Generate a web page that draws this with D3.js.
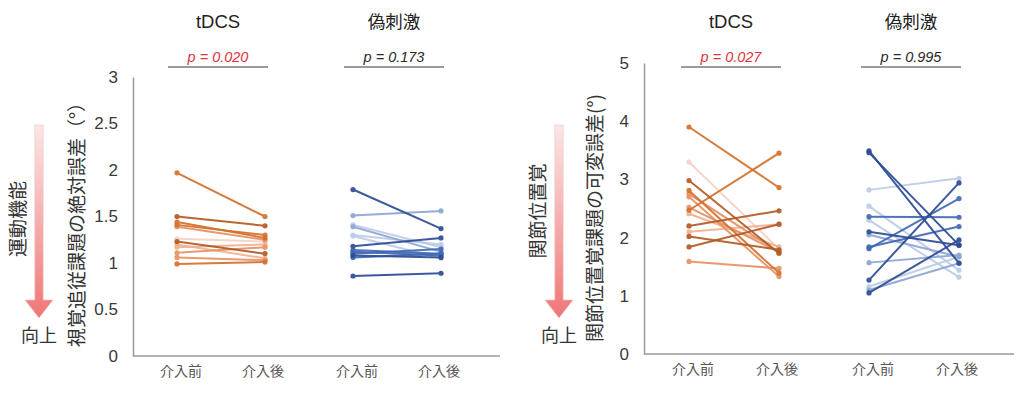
<!DOCTYPE html>
<html>
<head>
<meta charset="utf-8">
<script src="https://cdn.jsdelivr.net/npm/d3@7"></script>
<style>
  html, body { margin: 0; padding: 0; background: #fff; }
  svg { display: block; }
  .lat { font-family: "Liberation Sans", Arial, sans-serif; }
  .jp { font-family: "Noto Sans CJK JP", "Noto Sans", sans-serif; }
</style>
</head>
<body>
<svg id="chart" width="1024" height="393"></svg>
<script>
// ---------- data ----------
const conditions = ["tDCS", "偽刺激"];
const timepoints = ["介入前", "介入後"];

// Panel A: 視覚追従課題の絶対誤差 (°)
const ticksA = [0, 0.5, 1, 1.5, 2, 2.5, 3];
const pValuesA = ["p = 0.020", "p = 0.173"];
const tdcsPreA  = [1.97, 1.50, 1.44, 1.41, 1.39, 1.26, 1.23, 1.20, 1.17, 1.11, 1.06, 0.99];
const tdcsPostA = [1.50, 1.40, 1.27, 1.30, 1.25, 1.23, 1.10, 1.05, 1.20, 1.17, 1.03, 1.01];
const shamPreA  = [1.79, 1.51, 1.41, 1.39, 1.29, 1.18, 1.14, 1.12, 1.10, 1.08, 1.06, 1.30, 0.86];
const shamPostA = [1.37, 1.56, 1.17, 1.12, 1.05, 1.27, 1.10, 1.08, 1.15, 1.06, 1.10, 1.20, 0.89];

// Panel B: 関節位置覚課題の可変誤差 (°)
const ticksB = [0, 1, 2, 3, 4, 5];
const pValuesB = ["p = 0.027", "p = 0.995"];
const tdcsPreB  = [3.90, 2.47, 3.30, 2.98, 2.81, 2.70, 2.75, 2.20, 2.10, 1.84, 2.02, 1.59, 2.41, 2.52];
const tdcsPostB = [2.86, 3.45, 1.80, 1.73, 1.39, 1.33, 1.75, 2.46, 2.23, 2.23, 1.79, 1.47, 1.84, 1.75];
const shamPreB  = [3.49, 3.46, 2.82, 2.54, 2.36, 2.30, 2.10, 2.05, 1.84, 1.81, 1.57, 1.27, 1.16, 1.10, 1.05];
const shamPostB = [1.56, 1.87, 3.02, 1.44, 2.35, 1.32, 1.87, 1.67, 2.19, 2.67, 1.70, 2.94, 1.67, 1.56, 1.96];

// ---------- styles ----------
const orangeShades = ["#b35a22", "#d4702c", "#e69163", "#f0b192", "#f5d2c6"];
const blueShades   = ["#2c4c94", "#4169b4", "#8ea6d5", "#bccbe7"];
const shadeTdcsA = [1, 0, 1, 1, 2, 4, 0, 3, 3, 2, 2, 1];
const shadeShamA = [0, 2, 3, 2, 3, 0, 1, 1, 1, 0, 1, 3, 0];
const shadeTdcsB = [1, 1, 4, 0, 1, 2, 2, 0, 3, 0, 0, 2, 3, 2];
const shadeShamB = [0, 0, 3, 3, 1, 3, 0, 2, 1, 1, 2, 0, 3, 2, 0];

const svg = d3.select("#chart");

function drawPanel(cfg) {
  const g = svg.append("g");
  const y = d3.scaleLinear().domain(cfg.domain).range([cfg.bottom, cfg.top]);
  const xGroup = d3.scaleBand().domain(conditions).range([cfg.left, cfg.bandRight]).padding(0);
  const xTime = d3.scalePoint().domain(timepoints).range([0, xGroup.bandwidth()]).padding(0.5);

  // y axis
  const yAxis = d3.axisLeft(y).tickValues(cfg.ticks).tickSize(0).tickPadding(15)
    .tickFormat(d => String(d));
  const ya = g.append("g").attr("transform", `translate(${cfg.left},0)`).call(yAxis);
  ya.select(".domain").attr("stroke", "#9a9a9a").attr("stroke-width", 1.5);
  ya.selectAll("text").attr("class", "lat").attr("font-size", 17).attr("fill", "#3a3a3a");

  // x baseline
  g.append("line")
    .attr("x1", cfg.left).attr("x2", cfg.right)
    .attr("y1", y(0)).attr("y2", y(0))
    .attr("stroke", "#9a9a9a").attr("stroke-width", 1.5);

  // category labels
  conditions.forEach(c => {
    timepoints.forEach(t => {
      g.append("text").attr("class", "jp")
        .attr("x", xGroup(c) + xTime(t) + (t === timepoints[0] ? 4 : -2))
        .attr("y", cfg.bottom + 20)
        .attr("text-anchor", "middle").attr("font-size", 14).attr("fill", "#555")
        .text(t);
    });
    const cx = xGroup(c) + xGroup.bandwidth() / 2;
    // condition title
    g.append("text").attr("class", c === "tDCS" ? "lat" : "jp")
      .attr("x", cx - 3).attr("y", 28)
      .attr("text-anchor", "middle").attr("font-size", c === "tDCS" ? 18.5 : 17.5)
      .attr("fill", "#222").text(c);
  });

  // p-value bars
  cfg.pValues.forEach((p, i) => {
    const c = conditions[i];
    const cx = xGroup(c) + xGroup.bandwidth() / 2 - 3;
    g.append("line")
      .attr("x1", cx - 50).attr("x2", cx + 50).attr("y1", 67).attr("y2", 67)
      .attr("stroke", "#7a7a7a").attr("stroke-width", 1.5);
    const sig = parseFloat(p.split("=")[1]) < 0.05;
    g.append("text").attr("class", "lat")
      .attr("x", cx).attr("y", 62).attr("text-anchor", "middle")
      .attr("font-size", 14.5).attr("font-style", "italic")
      .attr("fill", sig ? "#e0323c" : "#2a2a2a").text(p);
  });

  // paired lines
  const groups = [
    { c: conditions[0], pre: cfg.tdcsPre, post: cfg.tdcsPost, shade: cfg.shadeTdcs, pal: orangeShades },
    { c: conditions[1], pre: cfg.shamPre, post: cfg.shamPost, shade: cfg.shadeSham, pal: blueShades }
  ];
  groups.forEach(gr => {
    const x0 = xGroup(gr.c) + xTime(timepoints[0]);
    const x1 = xGroup(gr.c) + xTime(timepoints[1]);
    const order = d3.range(gr.pre.length).sort((a, b) => gr.shade[b] - gr.shade[a]);
    order.forEach(i => {
      const col = gr.pal[gr.shade[i]];
      const sg = g.append("g").attr("opacity", 0.92);
      sg.append("line")
        .attr("x1", x0).attr("y1", y(gr.pre[i]))
        .attr("x2", x1).attr("y2", y(gr.post[i]))
        .attr("stroke", col).attr("stroke-width", 2);
      [[x0, gr.pre[i]], [x1, gr.post[i]]].forEach(([px, v]) => {
        sg.append("circle").attr("cx", px).attr("cy", y(v)).attr("r", 2.6).attr("fill", col);
      });
    });
  });

  // arrow
  const gradId = "grad" + cfg.id;
  const grad = svg.append("defs").append("linearGradient").attr("id", gradId)
    .attr("x1", 0).attr("y1", 0).attr("x2", 0).attr("y2", 1);
  grad.append("stop").attr("offset", "0%").attr("stop-color", "#fbe6e6");
  grad.append("stop").attr("offset", "100%").attr("stop-color", "#f07676");
  const ax = cfg.arrowX, sw = 4.2, hw = 14, top = 125, hb = 300, tip = 318;
  g.append("path")
    .attr("d", `M${ax - sw},${top} L${ax + sw},${top} L${ax + sw},${hb} L${ax + hw},${hb} L${ax},${tip} L${ax - hw},${hb} L${ax - sw},${hb} Z`)
    .attr("fill", `url(#${gradId})`).attr("stroke", "#f4c4c4").attr("stroke-width", 0.6);

  // side label (rotated)
  g.append("text").attr("class", "jp")
    .attr("transform", `translate(${cfg.sideX},${cfg.sideY}) rotate(-90)`)
    .attr("text-anchor", "middle").attr("dominant-baseline", "central")
    .attr("font-size", 19).attr("fill", "#333").text(cfg.sideLabel);

  // 向上
  g.append("text").attr("class", "jp")
    .attr("x", ax).attr("y", 342).attr("text-anchor", "middle")
    .attr("font-size", 18).attr("fill", "#333").text("向上");

  // y title
  g.append("text").attr("class", "jp")
    .attr("transform", `translate(${cfg.titleX},${cfg.titleY}) rotate(-90)`)
    .attr("text-anchor", "middle").attr("dominant-baseline", "central")
    .attr("font-size", 19).attr("fill", "#333").text(cfg.yTitle);
}

drawPanel({
  id: "A", domain: [0, 3], ticks: ticksA, top: 77, bottom: 356,
  left: 133, right: 500, bandRight: 485,
  pValues: pValuesA,
  tdcsPre: tdcsPreA, tdcsPost: tdcsPostA, shamPre: shamPreA, shamPost: shamPostA,
  shadeTdcs: shadeTdcsA, shadeSham: shadeShamA,
  arrowX: 39, sideX: 16, sideY: 219, sideLabel: "運動機能",
  titleX: 75, titleY: 220, yTitle: "視覚追従課題の絶対誤差（°）"
});

drawPanel({
  id: "B", domain: [0, 5], ticks: ticksB, top: 63, bottom: 354,
  left: 644, right: 1014, bandRight: 1004,
  pValues: pValuesB,
  tdcsPre: tdcsPreB, tdcsPost: tdcsPostB, shamPre: shamPreB, shamPost: shamPostB,
  shadeTdcs: shadeTdcsB, shadeSham: shadeShamB,
  arrowX: 559, sideX: 536, sideY: 211, sideLabel: "関節位置覚",
  titleX: 593, titleY: 218, yTitle: "関節位置覚課題の可変誤差(°)"
});
</script>
</body>
</html>
